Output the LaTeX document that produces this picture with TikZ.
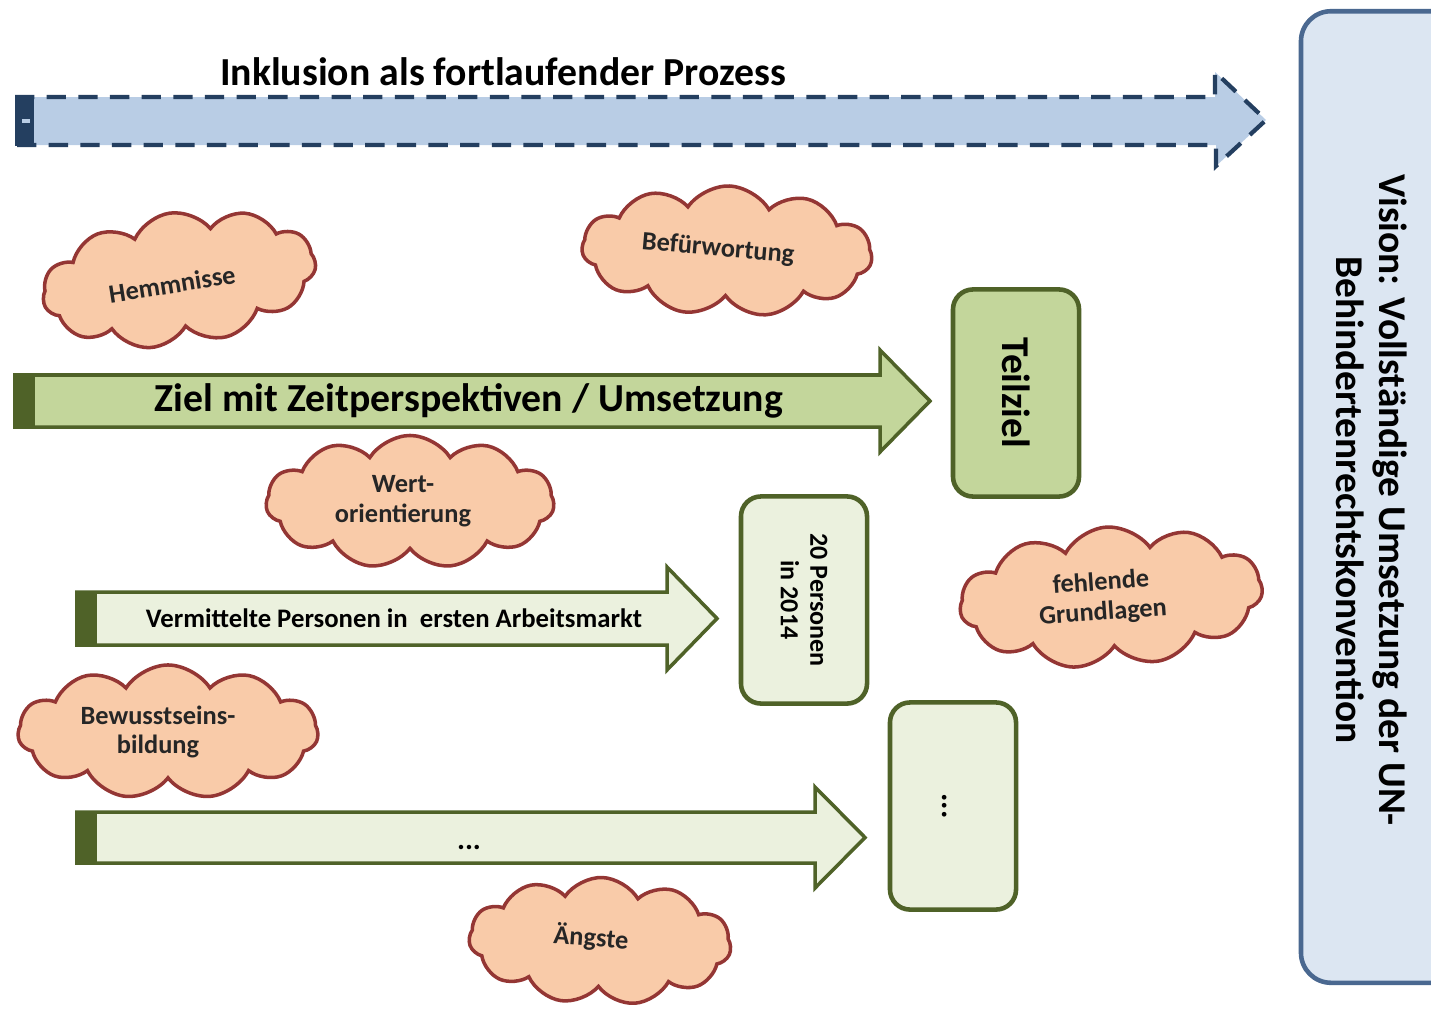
\documentclass[tikz,border=0pt]{standalone}
\usepackage{fontspec}
\setmainfont{Carlito}
\usetikzlibrary{shapes.symbols}

\definecolor{procfill}{HTML}{B9CDE5}
\definecolor{procline}{HTML}{243F60}
\definecolor{visionfill}{HTML}{DCE6F2}
\definecolor{visionline}{HTML}{4A6890}
\definecolor{goalfill}{HTML}{C3D69B}
\definecolor{stepfill}{HTML}{EBF1DE}
\definecolor{goalline}{HTML}{4F6228}
\definecolor{cloudfill}{HTML}{F9CBA9}
\definecolor{cloudline}{HTML}{943634}

\tikzset{
    cloudnote/.style={cloud, cloud puffs=11, cloud puff arc=115, aspect=2,
        cloud ignores aspect, draw=cloudline, fill=cloudfill, line width=1pt, inner sep=0pt},
    cloudtext/.style={font=\bfseries\fontsize{7.5}{8.5}\selectfont, align=center, text=black!85},
    goalbox/.style={draw=goalline, line width=1.3pt, rounded corners=0.2cm, rotate=-90,
        minimum width=2.07cm, minimum height=1.26cm, inner sep=0pt},
}

\begin{document}
\begin{tikzpicture}[x=0.01cm, y=-0.01cm]
    \useasboundingbox (0,0) rectangle (1431,1009);

    % vision on the right
    \node[draw=visionline, fill=visionfill, line width=1.3pt, rounded corners=0.3cm,
        rotate=-90, minimum width=9.71cm, minimum height=1.6cm] (vision) at (1381,497) {};
    \node[rotate=-90, align=center, font=\bfseries\fontsize{11.2}{12.2}\selectfont] (visiontext)
        at (1372,500) {Vision: Vollständige Umsetzung der UN-\\Behindertenrechtskonvention};

    % process arrow
    \draw[procline, fill=procfill, line width=1.2pt, dash pattern=on 5.5pt off 3.5pt]
        (15,97) -- (1215,97) -- (1215,72) -- (1266,120) -- (1216,166) -- (1216,145) -- (15,145);
    \fill[procline] (15,96) rectangle (34,146);
    \fill[procfill] (22,119) rectangle (30,123);
    \node[font=\bfseries\fontsize{11.3}{13}\selectfont] (process) at (503,72)
        {Inklusion als fortlaufender Prozess};

    % goal arrows
    \foreach \xs/\xh/\ya/\yb/\col in {15/880/375/427/goalfill, 77/667/592/645/stepfill,
        77/815/812/863/stepfill} {
        \draw[goalline, fill=\col, line width=1pt]
            (\xs,\ya) -- (\xh,\ya) -- (\xh,\ya-25) -- (\xh+50,{(\ya+\yb)/2})
            -- (\xh,\yb+25) -- (\xh,\yb) -- (\xs,\yb) -- cycle;
        \fill[goalline] (\xs,\ya) rectangle (\xs+20,\yb);
    }
    \node[font=\bfseries\fontsize{11.3}{13}\selectfont] (ziel) at (469,401)
        {Ziel mit Zeitperspektiven / Umsetzung};
    \node[font=\bfseries\fontsize{7.6}{9}\selectfont] (vermittelt) at (394,618)
        {Vermittelte Personen in\ \ ersten Arbeitsmarkt};
    \node[font=\bfseries\fontsize{8.5}{10}\selectfont] (weitere) at (469,847) {...};

    % boxes at the arrow heads
    \node[goalbox, fill=goalfill, font=\bfseries\fontsize{11.2}{13}\selectfont]
        (teilziel) at (1016,393) {Teilziel};
    \node[goalbox, fill=stepfill, align=center, font=\bfseries\fontsize{7.4}{8.4}\selectfont]
        (personen) at (804,600) {20 Personen\\in 2014};
    \node[goalbox, fill=stepfill, font=\bfseries\fontsize{9}{10}\selectfont,
        text width=1.1cm, align=center] (offen) at (953,806) {};
    \node[rotate=-90, font=\bfseries\fontsize{9}{10}\selectfont] (offentext) at (945,806) {...};

    % clouds
    \node[cloudnote, rotate=8, minimum width=2.75cm, minimum height=1.33cm] (hemmnisse) at (179,279) {};
    \node[cloudtext, rotate=9] (hemmnissetext) at (172,284) {Hemmnisse};
    \node[cloudnote, rotate=-2, minimum width=2.9cm, minimum height=1.3cm] (befuerwortung) at (727,251) {};
    \node[cloudtext, rotate=-5] (befuerwortungtext) at (718,249) {Befürwortung};
    \node[cloudnote, minimum width=2.88cm, minimum height=1.33cm] (wert) at (410,502) {};
    \node[cloudtext] (werttext) at (403,501) {Wert-\\orientierung};
    \node[cloudnote, rotate=4, minimum width=3.03cm, minimum height=1.4cm] (grundlagen) at (1111,597) {};
    \node[cloudtext, rotate=4] (grundlagentext) at (1102,598) {fehlende\\Grundlagen};
    \node[cloudnote, minimum width=3cm, minimum height=1.34cm] (bewusstsein) at (168,732) {};
    \node[cloudtext] (bewusstseintext) at (158,732) {Bewusstseins-\\bildung};
    \node[cloudnote, rotate=-2, minimum width=2.62cm, minimum height=1.27cm] (aengste) at (600,941) {};
    \node[cloudtext, rotate=-4] (aengstetext) at (591,938) {Ängste};
\end{tikzpicture}
\end{document}
